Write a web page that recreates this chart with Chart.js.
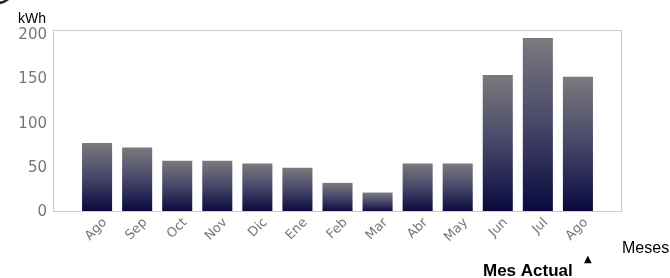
<!DOCTYPE html>
<html>
<head>
<meta charset="utf-8">
<script src="https://cdn.jsdelivr.net/npm/chart.js@4"></script>
<style>
html,body{margin:0;padding:0;background:#fff;}
#wrap{width:670px;height:278px;position:relative;}
</style>
</head>
<body>
<div id="wrap"><canvas id="c" width="670" height="278"></canvas></div>
<script>
const categories = ['Ago','Sep','Oct','Nov','Dic','Ene','Feb','Mar','Abr','May','Jun','Jul','Ago'];
const consumo = [78, 73, 58, 58, 55, 50, 33, 22, 55, 55, 155, 197, 153];
const yTicks = [0, 50, 100, 150, 200];
const yUnit = 'kWh';
const xUnit = 'Meses';
const currentLabel = 'Mes Actual';

const points = consumo.map((v, i) => ({x: i, y: v}));

function barGradient(ctx) {
  const chart = ctx.chart;
  const yScale = chart.scales.y;
  if (!yScale || ctx.raw == null) return '#333366';
  const top = yScale.getPixelForValue(ctx.raw.y);
  const bottom = yScale.getPixelForValue(0);
  if (!isFinite(top) || !isFinite(bottom) || top === bottom) return '#333366';
  const g = chart.ctx.createLinearGradient(0, top, 0, bottom);
  g.addColorStop(0, 'rgb(122,122,126)');
  g.addColorStop(0.5, 'rgb(70,70,105)');
  g.addColorStop(1, 'rgb(8,8,62)');
  return g;
}

const textPlugin = {
  id: 'texts',
  afterDraw(chart) {
    const c = chart.ctx;
    const a = chart.chartArea;
    c.save();
    c.strokeStyle = '#cccccc';
    c.lineWidth = 1;
    c.strokeRect(Math.round(a.left) + 0.5, Math.round(a.top) + 0.5, Math.round(a.right - a.left) - 1, Math.round(a.bottom - a.top) - 1);
    // corner decoration fragment
    c.strokeStyle = '#222';
    c.lineWidth = 2.5;
    c.beginPath();
    c.arc(-2, -12, 15, 0.2, Math.PI / 2);
    c.stroke();
    c.fillStyle = '#000';
    c.textBaseline = 'alphabetic';
    c.textAlign = 'left';
    c.font = '14px "Liberation Sans", Arial, sans-serif';
    c.fillText(yUnit, a.left - 35, a.top - 7);
    c.font = '16px "Liberation Sans", Arial, sans-serif';
    c.fillText(xUnit, a.right, a.bottom + 41);
    c.font = 'bold 17px "Liberation Sans Narrow", "Liberation Sans", Arial, sans-serif';
    c.fillText(currentLabel, a.right - 139, chart.height - 2);
    c.font = '10px "DejaVu Sans", sans-serif';
    c.fillText('\u25B2', a.right - 38, chart.height - 16);
    c.restore();
  }
};

new Chart(document.getElementById('c'), {
  type: 'bar',
  data: {
    datasets: [{
      data: points,
      backgroundColor: barGradient,
      borderWidth: 0,
      barPercentage: 0.75,
      categoryPercentage: 1
    }]
  },
  options: {
    responsive: false,
    animation: false,
    devicePixelRatio: 1,
    layout: {padding: {left: 0, top: 30, right: 48, bottom: 0}},
    plugins: {legend: {display: false}, tooltip: {enabled: false}},
    scales: {
      x: {
        type: 'linear',
        min: -1.1,
        max: 13.1,
        offset: false,
        grid: {display: false, drawTicks: false},
        border: {display: false},
        afterFit(s) { s.height = 66; },
        afterBuildTicks(s) { s.ticks = categories.map((_, i) => ({value: i})); },
        ticks: {
          autoSkip: false,
          maxRotation: 45,
          minRotation: 45,
          padding: 3,
          labelOffset: 8,
          color: '#777',
          font: {family: '"DejaVu Sans", sans-serif', size: 13},
          callback: (v) => categories[v] ?? ''
        }
      },
      y: {
        min: 0,
        max: 206,
        grid: {display: false, drawTicks: false},
        border: {display: false},
        afterFit(s) { s.width = 53; },
        afterBuildTicks(s) { s.ticks = yTicks.map(v => ({value: v})); },
        ticks: {
          padding: 6,
          color: '#777',
          font: {family: '"DejaVu Sans", sans-serif', size: 15}
        }
      }
    }
  },
  plugins: [textPlugin]
});
</script>
</body>
</html>
